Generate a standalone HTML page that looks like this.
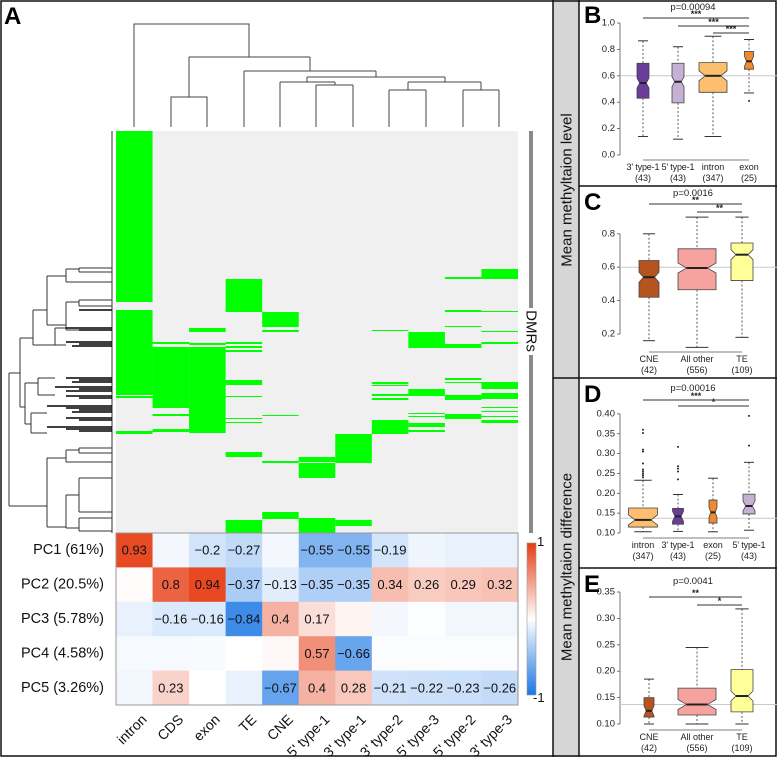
<!DOCTYPE html>
<html><head><meta charset="utf-8"><style>
body{margin:0;background:#fff;}
svg{display:block;font-family:"Liberation Sans",sans-serif;}
</style></head><body>
<svg id="fig" width="777" height="757" viewBox="0 0 777 757">
  <rect x="0" y="0" width="777" height="757" fill="#fff"/>
  <rect x="553" y="0" width="26" height="757" fill="#d6d6d6"/>
  <g stroke="#111" stroke-width="1.5" fill="none">
    <rect x="1" y="1" width="775" height="755"/>
    <line x1="553" y1="0" x2="553" y2="757"/>
    <line x1="579" y1="0" x2="579" y2="757"/>
    <line x1="579" y1="186" x2="777" y2="186"/>
    <line x1="553" y1="378" x2="777" y2="378"/>
    <line x1="579" y1="568" x2="777" y2="568"/>
  </g>
  <text x="567" y="190" transform="rotate(-90 567 190)" text-anchor="middle" dominant-baseline="central" font-size="15" fill="#111">Mean methyltaion level</text>
  <text x="567" y="567" transform="rotate(-90 567 567)" text-anchor="middle" dominant-baseline="central" font-size="15" fill="#111">Mean methyltaion difference</text>

  <text x="4" y="24" font-size="24" font-weight="bold">A</text>
  <text x="584" y="23" font-size="24" font-weight="bold">B</text>
  <text x="584" y="210" font-size="24" font-weight="bold">C</text>
  <text x="584" y="402" font-size="24" font-weight="bold">D</text>
  <text x="584" y="592" font-size="24" font-weight="bold">E</text>

  <!-- top dendrogram -->
  <g stroke="#444" stroke-width="1" fill="none">
    <path d="M134 127V24H249V57"/>
    <path d="M189 57H310"/>
    <path d="M189 57V97M171 127V97H207V127"/>
    <path d="M310 57V71M244 71H376M244 71V127"/>
    <path d="M376 71V77M307 77H445"/>
    <path d="M307 77V82M280 82H335M280 82V127M335 82V85M316 85H353M316 85V127M353 85V127"/>
    <path d="M445 77V82M408 82H481M408 82V90M481 82V90M389 90H426M389 90V127M426 90V127M463 90H499M463 90V127M499 90V127"/>
  </g>

  <!-- left dendrogram -->
  <g stroke="#333" stroke-width="1" fill="none">
    <path d="M112 131V533"/>
    <path d="M9 373V506M9 373H20M9 506H47"/>
    <path d="M20 338V407M20 338H33M20 407H25"/>
    <path d="M33 310V345M33 310H47M33 345H55"/>
    <path d="M47 276V325M47 276H66M47 325H66"/>
    <path d="M66 269V282M66 269H79M66 282H79M79 268V272M79 268H112M79 272H112M79 282H112"/>
    <path d="M66 302V330M66 302H79M66 330H79M79 300V306M79 300H112M79 306H112"/>
    <path d="M55 328V345M55 328H66M55 345H66"/>
    <path d="M25 383V424M25 383H38M25 424H31"/>
    <path d="M38 378V395M38 378H55M38 395H55"/>
    <path d="M31 413V433M31 413H47M31 433H47"/>
    <path d="M47 458V527M47 458H66M47 527H66"/>
    <path d="M66 450V462M66 450H79M66 462H79M79 448V453M79 448H112M79 453H112M79 462H112"/>
    <path d="M66 495V528M66 495H79M66 528H79M79 478V512M79 478H112M79 512H112M79 518V531M79 518H112M79 531H112"/>
  </g>
  <g stroke="#000" stroke-width="1.4">
    <path d="M79 310H112M66 328H112M79 330H112M66 342H112M79 344H112M72 346H112M66 378H112M79 380H112M72 382H112M55 387H112M79 389H112M66 391H112M66 396H112M79 398H112M47 406H112M66 408H112M79 410H112M72 412H112M66 418H112M79 420H112M47 427H112M66 429H112M79 431H112"/>
  </g>

  <g id="heat"></g>
  <g id="boxes"></g>
</svg>
<script>
// ===== Panel A data =====
const colCats = ["intron","CDS","exon","TE","CNE","5' type-1","3' type-1","3' type-2","5' type-3","5' type-2","3' type-3"];
const pcLabels = ["PC1 (61%)","PC2 (20.5%)","PC3 (5.78%)","PC4 (4.58%)","PC5 (3.26%)"];
const pc1 = [0.93,-0.05,-0.2,-0.27,-0.05,-0.55,-0.55,-0.19,-0.07,-0.1,-0.1];
const pc2 = [0.02,0.8,0.94,-0.37,-0.13,-0.35,-0.35,0.34,0.26,0.29,0.32];
const pc3 = [-0.1,-0.16,-0.16,-0.84,0.4,0.17,0.05,-0.05,-0.01,-0.06,-0.06];
const pc4 = [-0.04,-0.04,-0.03,0,0.03,0.57,-0.66,-0.02,-0.02,-0.02,-0.02];
const pc5 = [-0.06,0.23,0,-0.1,-0.67,0.4,0.28,-0.21,-0.22,-0.23,-0.26];
// DMR membership spans: [column, startRow, endRow] over 402 DMR rows
const dmrSpans = [
[0,0,171],[0,179,264],[0,265,267],[0,300,303],
[1,211,213],[1,216,277],[1,283,285],[1,298,301],
[2,197,201],[2,212,214],[2,216,302],
[3,148,181],[3,211,213],[3,215,217],[3,219,221],[3,249,254],[3,265,266],[3,287,288],[3,291,292],[3,321,326],[3,389,402],
[4,181,196],[4,199,201],[4,284,285],[4,330,332],[4,381,388],
[5,326,331],[5,332,347],[5,387,402],
[6,303,332],[6,389,395],
[7,199,200],[7,251,253],[7,254,255],[7,263,265],[7,267,269],[7,289,303],
[8,201,217],[8,258,265],[8,282,283],[8,285,286],[8,292,296],[8,299,301],
[9,146,148],[9,179,181],[9,195,196],[9,213,217],[9,247,249],[9,251,252],[9,264,269],[9,283,288],
[10,138,148],[10,180,181],[10,200,201],[10,211,213],[10,251,258],[10,262,268],[10,276,277],[10,280,281],[10,285,286],[10,289,292]
];
const dmrCount = 402;

// ===== Panel B data (mean methylation level) =====
const bCats = ["3' type-1","5' type-1","intron","exon"];
const bN = ["(43)","(43)","(347)","(25)"];
const bMin = [0.14,0.12,0.14,0.47];
const bQ1 = [0.43,0.395,0.475,0.65];
const bMed = [0.545,0.555,0.60,0.71];
const bQ3 = [0.695,0.695,0.70,0.785];
const bMax = [0.865,0.82,0.90,0.875];
const bOut = [[],[],[],[0.41]];
const bTicks = [0.0,0.2,0.4,0.6,0.8,1.0];

// ===== Panel C data =====
const cCats = ["CNE","All other","TE"];
const cN = ["(42)","(556)","(109)"];
const cMin = [0.16,0.12,0.18];
const cQ1 = [0.42,0.465,0.52];
const cMed = [0.54,0.595,0.675];
const cQ3 = [0.64,0.71,0.745];
const cMax = [0.80,0.90,0.90];
const cOut = [[],[],[]];
const cTicks = [0.2,0.4,0.6,0.8];

// ===== Panel D data (mean methylation difference) =====
const dCats = ["intron","3' type-1","exon","5' type-1"];
const dN = ["(347)","(43)","(25)","(43)"];
const dMin = [0.103,0.104,0.103,0.107];
const dQ1 = [0.115,0.122,0.125,0.148];
const dMed = [0.133,0.142,0.152,0.168];
const dQ3 = [0.163,0.162,0.183,0.198];
const dMax = [0.233,0.197,0.238,0.278];
const dOut = [[0.36,0.352,0.31,0.305,0.275,0.26,0.255,0.25,0.245,0.24],[0.317,0.268,0.262,0.255,0.235],[],[0.395,0.32]];
const dTicks = [0.10,0.15,0.20,0.25,0.30,0.35,0.40];

// ===== Panel E data =====
const eCats = ["CNE","All other","TE"];
const eN = ["(42)","(556)","(109)"];
const eMin = [0.10,0.10,0.10];
const eQ1 = [0.113,0.117,0.123];
const eMed = [0.125,0.137,0.153];
const eQ3 = [0.150,0.168,0.203];
const eMax = [0.185,0.245,0.318];
const eOut = [[],[],[]];
const eTicks = [0.10,0.15,0.20,0.25,0.30,0.35];

const NS = "http://www.w3.org/2000/svg";
function mk(parent, tag, attrs, text){
  const el = document.createElementNS(NS, tag);
  for (const k in attrs) el.setAttribute(k, attrs[k]);
  if (text !== undefined) el.textContent = text;
  parent.appendChild(el);
  return el;
}

// ---------- heatmap ----------
const heat = document.getElementById('heat');
const hx0 = 116, hx1 = 518, gy0 = 131, gy1 = 533, hy1 = 705;
const cw = (hx1 - hx0) / colCats.length;
const rh = (hy1 - gy1) / pcLabels.length;
const xCol = i => hx0 + i * cw;
const yDmr = r => gy0 + (gy1 - gy0) * r / dmrCount;
const bg = mk(heat, 'rect', {x:hx0, y:gy0, width:hx1-hx0, height:gy1-gy0, fill:'#f0f0f0'});


dmrSpans.forEach(s => {
  const r = mk(heat, 'rect', {x:xCol(s[0]), y:yDmr(s[1]), width:cw, height:Math.max(1, yDmr(s[2]) - yDmr(s[1])), fill:'#00ff00'});
  
  
});
const dm1 = mk(heat, 'rect', {x:529, y:gy0, width:4, height:177, fill:'#8a8a8a'});


const dm2 = mk(heat, 'rect', {x:529, y:355, width:4, height:gy1-355, fill:'#8a8a8a'});


const dmt = mk(heat, 'text', {x:531, y:331, transform:'rotate(90 531 331)', 'text-anchor':'middle', 'dominant-baseline':'central', 'font-size':15, fill:'#111'}, 'DMRs');



function colorFor(v){
  const w = [255,255,255], red = [230,60,20], blue = [25,118,228];
  const t = Math.min(1, Math.abs(v)), e = v >= 0 ? red : blue;
  const c = w.map((x,i) => Math.round(x + (e[i]-x)*t));
  return `rgb(${c[0]},${c[1]},${c[2]})`;
}
const pcRows = [pc1,pc2,pc3,pc4,pc5];
pcRows.forEach((row, ri) => {
  const y = gy1 + ri * rh;
  const lab = mk(heat, 'text', {x:104, y:y+rh/2, 'text-anchor':'end', 'dominant-baseline':'central', 'font-size':14.5, fill:'#111'}, pcLabels[ri]);
  
  
  row.forEach((v, ci) => {
    const c = mk(heat, 'rect', {x:xCol(ci), y:y, width:cw+0.5, height:rh+0.5, fill:colorFor(v)});
    
    
    if (Math.abs(v) >= 0.13) {
      const t = mk(heat, 'text', {x:xCol(ci)+cw/2, y:y+rh/2, 'text-anchor':'middle', 'dominant-baseline':'central', 'font-size':13, fill:'#111'}, String(v).replace('-', '\u2212'));
      
      
    }
  });
});
mk(heat, 'rect', {x:hx0, y:gy1, width:hx1-hx0, height:hy1-gy1, fill:'none', stroke:'#999', 'stroke-width':1});
colCats.forEach((c, i) => {
  const cx = xCol(i) + cw/2 + 6, cy = 713;
  const t = mk(heat, 'text', {x:cx, y:cy, transform:`rotate(-45 ${cx} ${cy})`, 'text-anchor':'end', 'dominant-baseline':'hanging', 'font-size':14, fill:'#111'}, c);
  
  
});
const defs = mk(heat, 'defs', {});
const lg = mk(defs, 'linearGradient', {id:'cbg', x1:0, y1:0, x2:0, y2:1});
mk(lg, 'stop', {offset:'0', 'stop-color':colorFor(1)});
mk(lg, 'stop', {offset:'0.5', 'stop-color':'#fff'});
mk(lg, 'stop', {offset:'1', 'stop-color':colorFor(-1)});
const cb = mk(heat, 'rect', {x:527, y:543, width:9, height:152, fill:'url(#cbg)', stroke:'#999', 'stroke-width':0.6});


const cbt = mk(heat, 'text', {x:537, y:546, 'font-size':13, fill:'#111'}, '1');


const cbb = mk(heat, 'text', {x:533, y:702, 'font-size':13, fill:'#111'}, '-1');



// ---------- box plots ----------
const boxes = document.getElementById('boxes');
function panel(o){
  const g = mk(boxes, 'g', {});
  
  
  const y = v => o.yb - (v - o.vmin) * o.scale;
  mk(g, 'line', {x1:620, y1:y(o.ticks[0]), x2:620, y2:y(o.ticks[o.ticks.length-1]), stroke:'#555', 'stroke-width':0.8});
  o.ticks.forEach(t => {
    mk(g, 'line', {x1:617, y1:y(t), x2:620, y2:y(t), stroke:'#555', 'stroke-width':0.8});
    const tl = mk(g, 'text', {x:615, y:y(t), 'text-anchor':'end', 'dominant-baseline':'central', 'font-size':9.5, fill:'#222'}, t.toFixed(o.dec));
    
    
  });
  mk(g, 'line', {x1:620, y1:y(o.ref), x2:777, y2:y(o.ref), stroke:'#c8c8c8', 'stroke-width':1});
  mk(g, 'line', {x1:o.cx[0], y1:o.xaxis, x2:o.cx[o.cx.length-1], y2:o.xaxis, stroke:'#555', 'stroke-width':0.8});
  o.cats.forEach((c, i) => {
    const cx = o.cx[i], hw = o.w[i]/2, col = o.colors[i];
    const bx = mk(g, 'g', {});
    
    
    mk(bx, 'line', {x1:cx, y1:y(o.max[i]), x2:cx, y2:y(o.q3[i]), stroke:'#333', 'stroke-width':0.8, 'stroke-dasharray':'2,2'});
    mk(bx, 'line', {x1:cx, y1:y(o.q1[i]), x2:cx, y2:y(o.min[i]), stroke:'#333', 'stroke-width':0.8, 'stroke-dasharray':'2,2'});
    const cap = Math.max(hw*0.6, 5);
    mk(bx, 'line', {x1:cx-cap, y1:y(o.max[i]), x2:cx+cap, y2:y(o.max[i]), stroke:'#333', 'stroke-width':1});
    mk(bx, 'line', {x1:cx-cap, y1:y(o.min[i]), x2:cx+cap, y2:y(o.min[i]), stroke:'#333', 'stroke-width':1});
    const ym = y(o.med[i]), yq1 = y(o.q1[i]), yq3 = y(o.q3[i]), n = 5, iw = hw*0.55;
    const pts = [[cx-hw,yq3],[cx+hw,yq3],[cx+hw,ym-n],[cx+iw,ym],[cx+hw,ym+n],[cx+hw,yq1],[cx-hw,yq1],[cx-hw,ym+n],[cx-iw,ym],[cx-hw,ym-n]];
    mk(bx, 'polygon', {points:pts.map(p=>p.join(',')).join(' '), fill:col, stroke:'#444', 'stroke-width':0.8});
    mk(bx, 'line', {x1:cx-iw, y1:ym, x2:cx+iw, y2:ym, stroke:'#222', 'stroke-width':2});
    o.out[i].forEach(v => mk(bx, 'circle', {cx:cx, cy:y(v), r:1, fill:'#222'}));
    const l1 = mk(g, 'text', {x:cx, y:o.xaxis+10, 'text-anchor':'middle', 'font-size':9, fill:'#222'}, c);
    if (c.length > 6) l1.setAttribute('textLength', '33');
    
    
    const l2 = mk(g, 'text', {x:cx, y:o.xaxis+21, 'text-anchor':'middle', 'font-size':9, fill:'#222'}, o.n[i]);
    
    
  });
  const pt = mk(g, 'text', {x:693, y:o.py, 'text-anchor':'middle', 'font-size':9.5, fill:'#222'}, o.p);
  
  
  o.sig.forEach(s => {
    mk(g, 'line', {x1:o.cx[s[0]], y1:s[2], x2:o.cx[s[1]], y2:s[2], stroke:'#333', 'stroke-width':0.9});
    const st = mk(g, 'text', {x:(o.cx[s[0]]+o.cx[s[1]])/2, y:s[2]-1.2, 'text-anchor':'middle', 'font-size':9, 'font-weight':'bold', fill:'#222'}, s[3]);
    
    
  });
}
const C4 = [643,678,713,749], C3 = [649,697,742];
panel({name:'panel-b-methylation-level', cats:bCats, n:bN, min:bMin, q1:bQ1, med:bMed, q3:bQ3, max:bMax, out:bOut, ticks:bTicks, dec:1,
  vmin:0, yb:155, scale:132, ref:0.6, xaxis:160, cx:C4, w:[12,12,28,9],
  colors:['#6a3d9a','#c6b0d4','#fdbf6f','#f08a30'], p:'p=0.00094', py:10,
  sig:[[0,3,18,'***'],[1,3,26,'***'],[2,3,33,'***']]});
panel({name:'panel-c-methylation-level', cats:cCats, n:cN, min:cMin, q1:cQ1, med:cMed, q3:cQ3, max:cMax, out:cOut, ticks:cTicks, dec:1,
  vmin:0.2, yb:334, scale:167, ref:0.6, xaxis:352, cx:C3, w:[20,38,22],
  colors:['#b5541e','#f6a3a0','#ffff99'], p:'p=0.0016', py:196,
  sig:[[0,2,204,'**'],[1,2,212,'**']]});
panel({name:'panel-d-methylation-difference', cats:dCats, n:dN, min:dMin, q1:dQ1, med:dMed, q3:dQ3, max:dMax, out:dOut, ticks:dTicks, dec:2,
  vmin:0.1, yb:533, scale:397, ref:0.137, xaxis:538, cx:C4, w:[29,11,8,12],
  colors:['#fdbf6f','#6a3d9a','#f08a30','#c6b0d4'], p:'p=0.00016', py:391,
  sig:[[0,3,400,'***'],[1,3,406,'*']]});
panel({name:'panel-e-methylation-difference', cats:eCats, n:eN, min:eMin, q1:eQ1, med:eMed, q3:eQ3, max:eMax, out:eOut, ticks:eTicks, dec:2,
  vmin:0.1, yb:724, scale:528, ref:0.137, xaxis:730, cx:C3, w:[10,38,22],
  colors:['#b5541e','#f6a3a0','#ffff99'], p:'p=0.0041', py:584,
  sig:[[0,2,597,'**'],[1,2,605,'*']]});
</script>
</body></html>
